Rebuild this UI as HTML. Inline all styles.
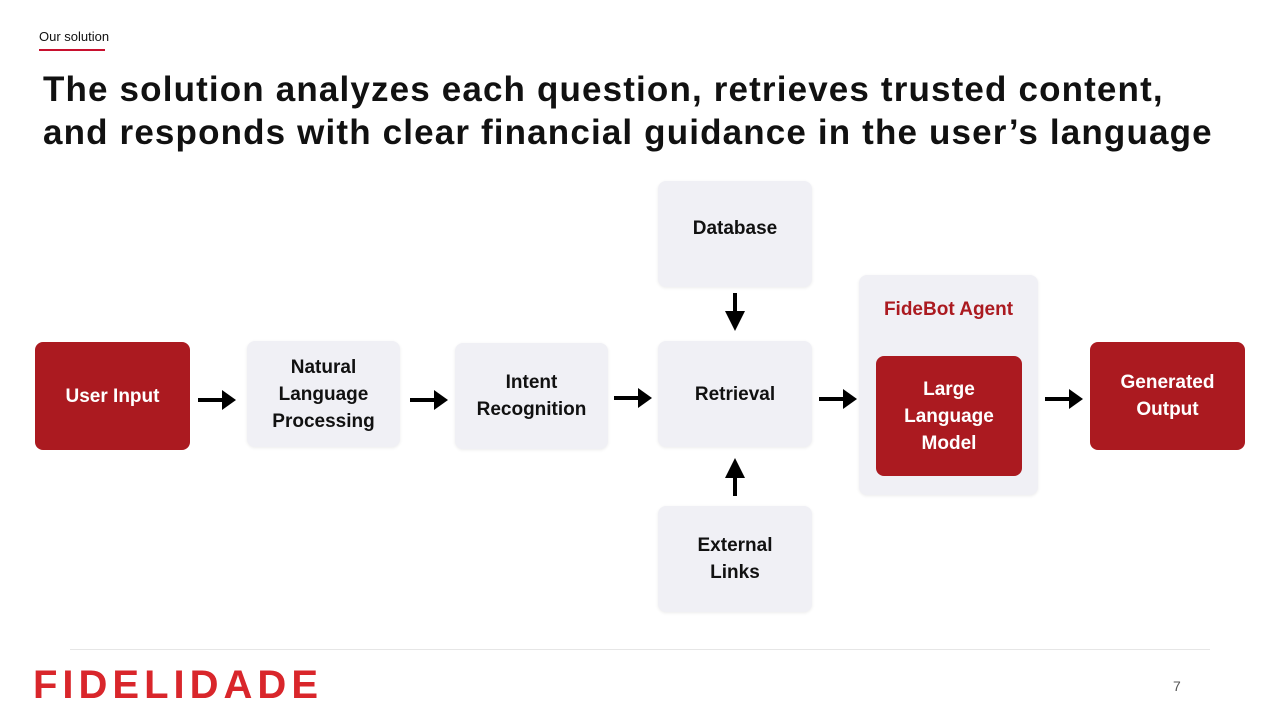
<!DOCTYPE html>
<html><head><meta charset="utf-8"><style>
body{margin:0;width:1280px;height:720px;background:#fff;position:relative;overflow:hidden;font-family:"Liberation Sans",sans-serif}
.b{position:absolute;border-radius:8px;display:flex;align-items:center;justify-content:center;text-align:center;font-weight:bold;font-size:19px;line-height:27px;color:#111}
.g{background:#f0f0f5;box-shadow:0 1px 3px rgba(0,0,0,.08)}
.r{background:#ab1a20;color:#fff}
.ah{position:absolute;height:4px;background:#000}
.ah:after{content:"";position:absolute;right:-12px;top:-8px;border-left:14px solid #000;border-top:10px solid transparent;border-bottom:10px solid transparent}
.av{position:absolute;width:4px;background:#000}
</style></head><body>
<div style="position:absolute;left:39px;top:29px;font-size:13px;color:#111">Our solution</div>
<div style="position:absolute;left:39px;top:49px;width:66px;height:2px;background:#c8102e"></div>
<div style="position:absolute;left:43px;top:68px;font-size:35px;font-weight:bold;line-height:43px;color:#111;letter-spacing:1.15px;white-space:nowrap">The solution analyzes each question, retrieves trusted content,<br>and responds with clear financial guidance in the user’s language</div>

<div class="b r" style="left:35px;top:342px;width:155px;height:108px">User Input</div>
<div class="b g" style="left:247px;top:341px;width:153px;height:106px">Natural<br>Language<br>Processing</div>
<div class="b g" style="left:455px;top:343px;width:153px;height:106px">Intent<br>Recognition</div>
<div class="b g" style="left:658px;top:341px;width:154px;height:106px">Retrieval</div>
<div class="b g" style="left:658px;top:181px;width:154px;height:106px;align-items:flex-start;padding-top:0"><span style="margin-top:34px">Database</span></div>
<div class="b g" style="left:658px;top:506px;width:154px;height:106px">External<br>Links</div>
<div class="b g" style="left:859px;top:275px;width:179px;height:220px;align-items:flex-start;color:#ab1a20"><span style="margin-top:21px">FideBot Agent</span></div>
<div class="b r" style="left:876px;top:356px;width:146px;height:120px">Large<br>Language<br>Model</div>
<div class="b r" style="left:1090px;top:342px;width:155px;height:108px">Generated<br>Output</div>

<div class="ah" style="left:198px;top:398px;width:26px"></div>
<div class="ah" style="left:410px;top:398px;width:26px"></div>
<div class="ah" style="left:614px;top:396px;width:26px"></div>
<div class="ah" style="left:819px;top:397px;width:26px"></div>
<div class="ah" style="left:1045px;top:397px;width:26px"></div>
<div class="av" style="left:733px;top:293px;height:20px"></div>
<div style="position:absolute;left:725px;top:311px;border-top:20px solid #000;border-left:10px solid transparent;border-right:10px solid transparent"></div>
<div class="av" style="left:733px;top:476px;height:20px"></div>
<div style="position:absolute;left:725px;top:458px;border-bottom:20px solid #000;border-left:10px solid transparent;border-right:10px solid transparent"></div>

<div style="position:absolute;left:70px;top:649px;width:1140px;height:1px;background:#e6e6e6"></div>
<div style="position:absolute;left:33px;top:663px;font-size:40px;font-weight:bold;color:#d9262b;letter-spacing:5px;line-height:44px">FIDELIDADE</div>
<div style="position:absolute;left:1173px;top:678px;font-size:14px;color:#555">7</div>
</body></html>
